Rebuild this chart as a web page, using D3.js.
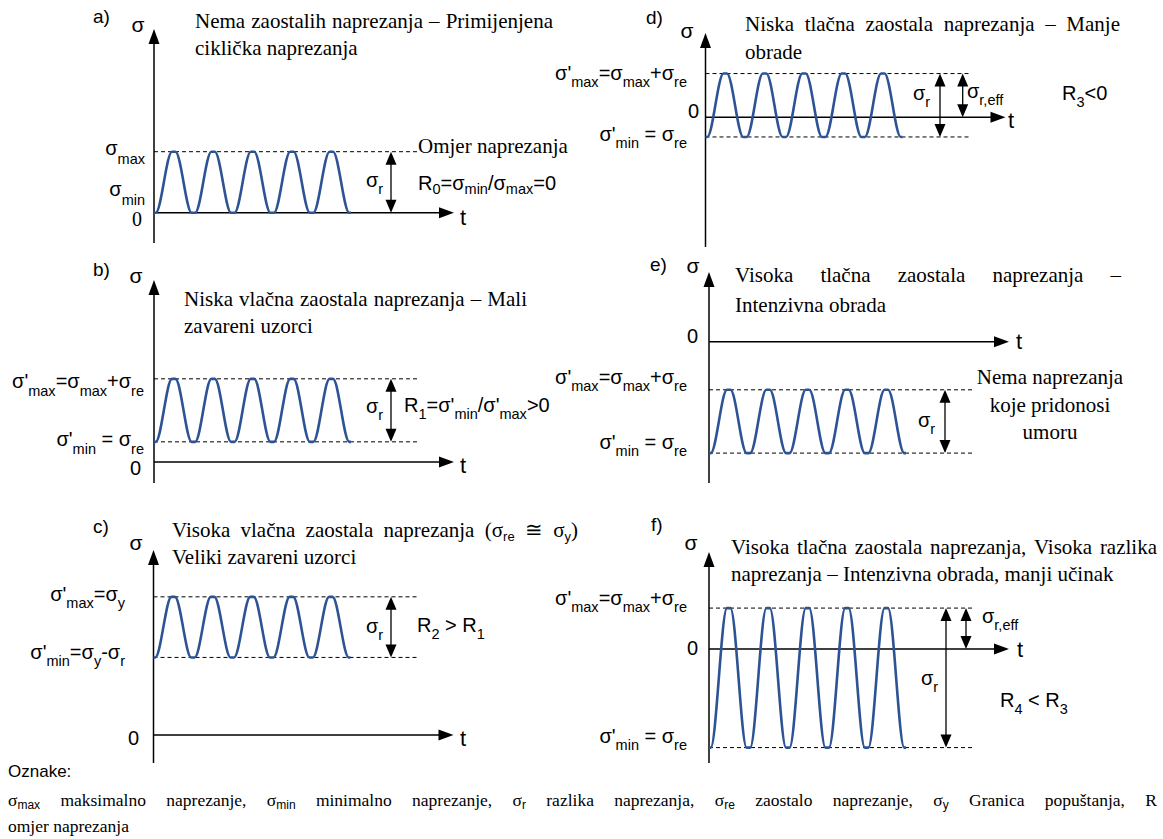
<!DOCTYPE html>
<html><head><meta charset="utf-8">
<script src="https://cdn.jsdelivr.net/npm/d3@7"></script>
<style>body{margin:0;background:#fff} svg{display:block} text{white-space:pre}</style>
</head><body><svg id="c" width="1163" height="839"></svg>
<script>
// ---------------- data ----------------
const panelIds   = ["a)", "b)", "c)", "d)", "e)", "f)"];
const maxLevels  = [1.00, 1.32, 2.28, 0.69, -0.76, 0.66];   // σ'max (units of the panel)
const minLevels  = [0.00, 0.32, 1.28, -0.31, -1.76, -1.59]; // σ'min
const cycles     = [5, 5, 5, 5, 5, 5];
const hasEff     = [false, false, false, true, false, true]; // σr,eff arrow (max -> 0)
const titles = [
  ["Nema zaostalih naprezanja – Primijenjena", "ciklička naprezanja"],
  ["Niska vlačna zaostala naprezanja – Mali", "zavareni uzorci"],
  ["Visoka vlačna zaostala naprezanja (σ_{re} ≅ σ_{y})", "Veliki zavareni uzorci"],
  ["Niska tlačna zaostala naprezanja – Manje", "obrade"],
  ["Visoka tlačna zaostala naprezanja –", "Intenzivna obrada"],
  ["Visoka tlačna zaostala naprezanja, Visoka razlika", "naprezanja – Intenzivna obrada, manji učinak"]
];
const maxLabels = ["σ_{max}", "σ'_{max}=σ_{max}+σ_{re}", "σ'_{max}=σ_{y}", "σ'_{max}=σ_{max}+σ_{re}", "σ'_{max}=σ_{max}+σ_{re}", "σ'_{max}=σ_{max}+σ_{re}"];
const minLabels = ["σ_{min}", "σ'_{min} = σ_{re}", "σ'_{min}=σ_{y}-σ_{r}", "σ'_{min} = σ_{re}", "σ'_{min} = σ_{re}", "σ'_{min} = σ_{re}"];
const ratioLabels = ["R_{0}=σ_{min}/σ_{max}=0", "R_{1}=σ'_{min}/σ'_{max}>0", "R_{2} > R_{1}", "R_{3}<0", null, "R_{4} < R_{3}"];
const noteA = "Omjer naprezanja";
const noteE = ["Nema naprezanja", "koje pridonosi", "umoru"];
const legendTitle = "Oznake:";
const legendLines = [
  "σ_{max} maksimalno naprezanje, σ_{min} minimalno naprezanje, σ_{r} razlika naprezanja, σ_{re} zaostalo naprezanje, σ_{y} Granica popuštanja, R",
  "omjer naprezanja"
];

// ---------------- layout ----------------
const SANS = "'Liberation Sans', Arial, sans-serif";
const SERIF = "'Liberation Serif', 'Times New Roman', serif";
const WAVE = "#2E5395";
const SHOULDER = 0.045; // half-width (in cycles) of the rounded crest/trough
const L = [
  {ax:154, zy:212.7, unit:61, top:29, bot:243, arr:391, lblEnd:145, maxY:155, minY:196, subDy:8.5, zX:132, zY:226, zSerif:true,
   pid:[93,23], sig:[138,32], tx:195, ty:[28,55], tw:358, tX:460, tY:225, srl:[366,187], ratio:[418,190,4]},
  {ax:154, zy:462, unit:63, top:280, bot:483, arr:391, lblEnd:144, maxY:388, minY:446, subDy:8, zX:130, zY:475,
   pid:[93,276], sig:[136,283], tx:184, ty:[306,333], tw:343, tX:460, tY:473, srl:[366,413], ratio:[404,412,7]},
  {ax:153.5, zy:735, unit:60.6, top:550, bot:763, arr:391, lblEnd:125, maxY:601, minY:659, subDy:7, zX:128, zY:745,
   pid:[93,533], sig:[136,550], tx:172, ty:[537,564], tw:406, tX:460, tY:746, srl:[366,633], ratio:[417,632,7]},
  {ax:705.5, zy:117.3, unit:63.4, top:33, bot:247, arr:940, eff:962.7, lblEnd:687, maxY:80, minY:141, subDy:7, zX:688, zY:118,
   pid:[646,24], sig:[687,38], tx:745, ty:[31,59], tw:375, tX:1008, tY:128, srl:[913,100], effl:[967,98], ratio:[1062,100,7]},
  {ax:709, zy:341.7, unit:63.3, top:272, bot:483, arr:945, lblEnd:687, maxY:384, minY:449, subDy:7, zX:687, zY:343,
   pid:[650,271], sig:[693,273], tx:735, ty:[282,312], tw:386, tX:1016, tY:349, srl:[918,427]},
  {ax:709, zy:649, unit:62, top:552, bot:763, arr:946, eff:966, lblEnd:687, maxY:605, minY:743, subDy:7, zX:687, zY:655,
   pid:[651,531], sig:[691,550], tx:731, ty:[554,581], tw:426, tX:1017, tY:657, srl:[921,685], effl:[982,623], ratio:[1000,707,7]}
];

const svg = d3.select("#c");

// rich text with _{sub} markup
function rich(parent, str, x, y, o) {
  const t = parent.append("text").attr("x", x).attr("y", y)
    .attr("font-family", o.font).attr("font-size", o.size).attr("fill", "#000");
  if (o.anchor) t.attr("text-anchor", o.anchor);
  const parts = str.split(/(_\{[^}]*\})/).filter(s => s.length);
  let off = 0;
  parts.forEach(p => {
    if (p.startsWith("_{")) {
      const s = t.append("tspan").text(p.slice(2, -1)).attr("font-size", o.sub).attr("dy", o.dy - off);
      if (o.subFont) s.attr("font-family", o.subFont);
      off = o.dy;
    } else {
      t.append("tspan").text(p).attr("dy", -off);
      off = 0;
    }
  });
  return t;
}
// line of words, optionally justified to a width
function wordsLine(parent, str, x, y, o, target) {
  const g = parent.append("g");
  const words = str.split(" ");
  const nodes = words.map(w => rich(g, w, 0, y, o));
  const widths = nodes.map(n => n.node().getComputedTextLength());
  const sum = d3.sum(widths);
  const gap = (target && words.length > 1) ? (target - sum) / (words.length - 1) : o.size * 0.25;
  let cx = x;
  nodes.forEach((n, i) => { n.attr("x", cx); cx += widths[i] + gap; });
}
function head(g, x, y, dir, w, h) { // dir: "up","down","right"
  let p;
  if (dir === "up") p = [[x, y], [x - w / 2, y + h], [x + w / 2, y + h]];
  else if (dir === "down") p = [[x, y], [x - w / 2, y - h], [x + w / 2, y - h]];
  else p = [[x, y], [x - h, y - w / 2], [x - h, y + w / 2]];
  g.append("path").attr("d", d3.line()(p) + "Z").attr("fill", "#000");
}
function dblArrow(g, x, y1, y2) { // y1 top, y2 bottom
  g.append("line").attr("x1", x).attr("x2", x).attr("y1", y1 + 10).attr("y2", y2 - 10)
    .attr("stroke", "#000").attr("stroke-width", 1.3);
  head(g, x, y1, "up", 11, 13);
  head(g, x, y2, "down", 11, 13);
}

const sansLbl = (dy) => ({font: SANS, size: 20, sub: 14.5, dy: dy});
const serifTitle = {font: SERIF, size: 21, sub: 13, dy: 4, subFont: SANS};

L.forEach((P, i) => {
  const g = svg.append("g");
  const x = d3.scaleLinear().domain([0, cycles[i]]).range([P.ax, P.ax + 197]);
  const y = d3.scaleLinear().domain([0, 1]).range([P.zy, P.zy - P.unit]);
  const tEnd = P.ax + 300, dashEnd = P.ax + 266;

  // dashed level lines
  [maxLevels[i], minLevels[i]].forEach(v => {
    if (i === 0 && v === 0) return;
    g.append("line").attr("x1", P.ax).attr("x2", dashEnd).attr("y1", y(v)).attr("y2", y(v))
      .attr("stroke", "#000").attr("stroke-width", 1).attr("stroke-dasharray", "4,3");
  });
  // y axis
  g.append("line").attr("x1", P.ax).attr("x2", P.ax).attr("y1", P.bot).attr("y2", P.top + 12)
    .attr("stroke", "#000").attr("stroke-width", 1.5);
  head(g, P.ax, P.top, "up", 11, 15);
  // t axis (zero line)
  g.append("line").attr("x1", P.ax).attr("x2", tEnd - 12).attr("y1", y(0)).attr("y2", y(0))
    .attr("stroke", "#000").attr("stroke-width", 1.5);
  head(g, tEnd, y(0), "right", 11, 15);

  // wave: alternating troughs and crests, each with a small rounded shoulder
  const pts = [];
  d3.range(2 * cycles[i] + 1).forEach(k => {
    const v = k % 2 ? maxLevels[i] : minLevels[i];
    const tc = k / 2;
    if (k > 0) pts.push({t: tc - SHOULDER, v});
    pts.push({t: tc, v});
    if (k < 2 * cycles[i]) pts.push({t: tc + SHOULDER, v});
  });
  g.append("path").datum(pts)
    .attr("d", d3.line().x(d => x(d.t)).y(d => y(d.v)).curve(d3.curveMonotoneX))
    .attr("fill", "none").attr("stroke", WAVE).attr("stroke-width", 2.6);

  // arrows
  dblArrow(g, P.arr, y(maxLevels[i]), y(minLevels[i]));
  if (hasEff[i]) dblArrow(g, P.eff, y(maxLevels[i]), y(0));

  // labels
  rich(g, panelIds[i], P.pid[0], P.pid[1], {font: SANS, size: 19, sub: 12, dy: 0});
  rich(g, "σ", P.sig[0], P.sig[1], {font: SANS, size: 21, sub: 12, dy: 0, anchor: "middle"});
  rich(g, "t", P.tX, P.tY, {font: SANS, size: 22, sub: 12, dy: 0});
  rich(g, "0", P.zX, P.zY, {font: P.zSerif ? SERIF : SANS, size: 20, sub: 12, dy: 0});
  rich(g, maxLabels[i], P.lblEnd, P.maxY, Object.assign(sansLbl(P.subDy), {anchor: "end"}));
  rich(g, minLabels[i], P.lblEnd, P.minY, Object.assign(sansLbl(P.subDy), {anchor: "end"}));
  rich(g, "σ_{r}", P.srl[0], P.srl[1], sansLbl(7));
  if (P.effl) rich(g, "σ_{r,eff}", P.effl[0], P.effl[1], sansLbl(7));
  if (ratioLabels[i]) rich(g, ratioLabels[i], P.ratio[0], P.ratio[1], sansLbl(P.ratio[2]));

  // title
  wordsLine(g, titles[i][0], P.tx, P.ty[0], serifTitle, P.tw);
  wordsLine(g, titles[i][1], P.tx, P.ty[1], serifTitle, null);
});

// extra notes
rich(svg, noteA, 418, 153, {font: SERIF, size: 21, sub: 12, dy: 0});
noteE.forEach((s, k) => rich(svg, s, 1050, 384 + k * 27.5, {font: SERIF, size: 21, sub: 12, dy: 0, anchor: "middle"}));

// legend
rich(svg, legendTitle, 8, 777, {font: SANS, size: 17, sub: 12, dy: 0});
const legO = {font: SERIF, size: 17.5, sub: 12, dy: 3, subFont: SANS};
wordsLine(svg, legendLines[0], 8, 806, legO, 1149);
wordsLine(svg, legendLines[1], 8, 832, legO, null);
</script></body></html>
